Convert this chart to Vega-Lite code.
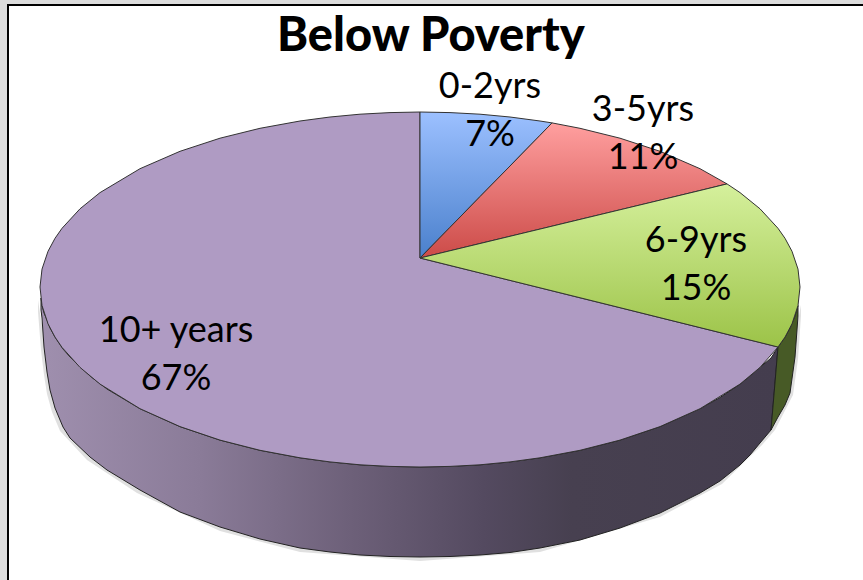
{"$schema":"https://vega.github.io/schema/vega-lite/v6.json","width":863,"height":580,"padding":0,"autosize":"none","background":"#ffffff","view":{"stroke":null},
"title":{"text":"Below Poverty","font":"Lato","fontSize":47,"fontWeight":900,"color":"#000000","anchor":"start","dx":277,"offset":-61,"frame":"group"},
"datasets":{
"frame":[{"part":"gray-left","x":0,"x2":7,"y":0,"y2":580},{"part":"gray-top","x":0,"x2":863,"y":0,"y2":4},{"part":"black-left","x":7,"x2":9,"y":5,"y2":580},{"part":"black-top","x":7,"x2":863,"y":4,"y2":6}],
"outline":[
{"slice":"shadow","x":38,"y":300,"y2":312},{"slice":"shadow","x":41,"y":320,"y2":350},{"slice":"shadow","x":44,"y":330,"y2":375},{"slice":"shadow","x":47,"y":340,"y2":394},{"slice":"shadow","x":52,"y":350,"y2":412},{"slice":"shadow","x":60,"y":360,"y2":431},{"slice":"shadow","x":87,"y":380,"y2":460},{"slice":"shadow","x":137,"y":410,"y2":493},{"slice":"shadow","x":220,"y":440,"y2":531},{"slice":"shadow","x":300,"y":458,"y2":552},{"slice":"shadow","x":420,"y":467,"y2":561},{"slice":"shadow","x":540,"y":458,"y2":552},{"slice":"shadow","x":660,"y":427,"y2":517},{"slice":"shadow","x":722,"y":397,"y2":484},{"slice":"shadow","x":762,"y":367,"y2":445},{"slice":"shadow","x":775,"y":358,"y2":430},{"slice":"shadow","x":793,"y":330,"y2":395},{"slice":"shadow","x":798,"y":320,"y2":359},{"slice":"shadow","x":801,"y":305,"y2":316},
{"slice":"10+ side","x":41,"y":298,"y2":310},{"slice":"10+ side","x":42,"y":305.5,"y2":318},{"slice":"10+ side","x":44,"y":313,"y2":347},{"slice":"10+ side","x":47,"y":320,"y2":372},{"slice":"10+ side","x":50,"y":328,"y2":390},{"slice":"10+ side","x":55,"y":337,"y2":408},{"slice":"10+ side","x":63,"y":349,"y2":427},{"slice":"10+ side","x":70,"y":357,"y2":438},{"slice":"10+ side","x":90,"y":376,"y2":457},{"slice":"10+ side","x":107,"y":389,"y2":470},{"slice":"10+ side","x":140,"y":408.7,"y2":490},{"slice":"10+ side","x":180,"y":426.6,"y2":512},{"slice":"10+ side","x":220,"y":440.1,"y2":527},{"slice":"10+ side","x":260,"y":450.3,"y2":539},{"slice":"10+ side","x":300,"y":457.8,"y2":548},{"slice":"10+ side","x":330,"y":461.9,"y2":552},{"slice":"10+ side","x":360,"y":464.8,"y2":555},{"slice":"10+ side","x":390,"y":466.4,"y2":556.5},{"slice":"10+ side","x":420,"y":467,"y2":557},{"slice":"10+ side","x":450,"y":466.4,"y2":556.5},{"slice":"10+ side","x":480,"y":464.8,"y2":555},{"slice":"10+ side","x":510,"y":461.9,"y2":552.5},{"slice":"10+ side","x":540,"y":457.8,"y2":548},{"slice":"10+ side","x":580,"y":450.3,"y2":540},{"slice":"10+ side","x":620,"y":440.1,"y2":528},{"slice":"10+ side","x":660,"y":426.6,"y2":513},{"slice":"10+ side","x":700,"y":408.7,"y2":493},{"slice":"10+ side","x":720,"y":397.5,"y2":481},{"slice":"10+ side","x":740,"y":384.1,"y2":465},{"slice":"10+ side","x":750,"y":376,"y2":455},{"slice":"10+ side","x":760,"y":367.4,"y2":443},{"slice":"10+ side","x":771,"y":358,"y2":430},{"slice":"10+ side","x":778,"y":347,"y2":347},
{"slice":"6-9 side","x":771,"y":430,"y2":430},{"slice":"6-9 side","x":778,"y":347,"y2":417},{"slice":"6-9 side","x":785,"y":337,"y2":405},{"slice":"6-9 side","x":790,"y":328,"y2":393},{"slice":"6-9 side","x":795,"y":316,"y2":357},{"slice":"6-9 side","x":798,"y":305.5,"y2":316},
{"slice":"10+","x":40,"y":287,"y2":287},{"slice":"10+","x":42,"y":269.1,"y2":305.5},{"slice":"10+","x":48,"y":251.3,"y2":323.8},{"slice":"10+","x":55,"y":238.3,"y2":337.1},{"slice":"10+","x":62,"y":228.3,"y2":347.4},{"slice":"10+","x":80,"y":208.8,"y2":367.4},{"slice":"10+","x":100,"y":192.6,"y2":384.1},{"slice":"10+","x":140,"y":168.7,"y2":408.7},{"slice":"10+","x":180,"y":151.3,"y2":426.6},{"slice":"10+","x":220,"y":138.2,"y2":440.1},{"slice":"10+","x":260,"y":128.3,"y2":450.3},{"slice":"10+","x":300,"y":121,"y2":457.8},{"slice":"10+","x":330,"y":117,"y2":461.9},{"slice":"10+","x":360,"y":114.2,"y2":464.8},{"slice":"10+","x":390,"y":112.6,"y2":466.4},{"slice":"10+","x":420,"y":112,"y2":467},{"slice":"10+","x":420.01,"y":258,"y2":467},{"slice":"10+","x":450,"y":265.5,"y2":466.4},{"slice":"10+","x":480,"y":272.9,"y2":464.8},{"slice":"10+","x":510,"y":280.4,"y2":461.9},{"slice":"10+","x":540,"y":287.8,"y2":457.8},{"slice":"10+","x":580,"y":297.8,"y2":450.3},{"slice":"10+","x":620,"y":307.7,"y2":440.1},{"slice":"10+","x":660,"y":317.7,"y2":426.6},{"slice":"10+","x":700,"y":327.6,"y2":408.7},{"slice":"10+","x":740,"y":337.6,"y2":384.1},{"slice":"10+","x":760,"y":342.5,"y2":367.4},{"slice":"10+","x":778,"y":347,"y2":347},
{"slice":"0-2","x":420,"y":112,"y2":258},{"slice":"0-2","x":450,"y":112.6,"y2":227.3},{"slice":"0-2","x":480,"y":114.2,"y2":196.6},{"slice":"0-2","x":510,"y":117,"y2":166},{"slice":"0-2","x":540,"y":121,"y2":135.3},{"slice":"0-2","x":552,"y":122.9,"y2":122.9},
{"slice":"3-5","x":420,"y":258,"y2":258},{"slice":"3-5","x":450,"y":227.3,"y2":250.8},{"slice":"3-5","x":480,"y":196.6,"y2":243.5},{"slice":"3-5","x":510,"y":166,"y2":236.3},{"slice":"3-5","x":540,"y":135.3,"y2":229.1},{"slice":"3-5","x":552,"y":122.9,"y2":226.2},{"slice":"3-5","x":580,"y":128.3,"y2":219.4},{"slice":"3-5","x":620,"y":138.2,"y2":209.8},{"slice":"3-5","x":660,"y":151.3,"y2":200.2},{"slice":"3-5","x":700,"y":168.7,"y2":190.5},{"slice":"3-5","x":727,"y":183.9,"y2":183.9},
{"slice":"6-9","x":420,"y":258,"y2":258},{"slice":"6-9","x":500,"y":238.7,"y2":277.9},{"slice":"6-9","x":600,"y":214.6,"y2":302.7},{"slice":"6-9","x":700,"y":190.5,"y2":327.6},{"slice":"6-9","x":727,"y":183.9,"y2":334.3},{"slice":"6-9","x":740,"y":192.6,"y2":337.6},{"slice":"6-9","x":760,"y":208.8,"y2":342.5},{"slice":"6-9","x":778,"y":228.3,"y2":347},{"slice":"6-9","x":785,"y":238.3,"y2":337.1},{"slice":"6-9","x":792,"y":251.3,"y2":323.8},{"slice":"6-9","x":798,"y":269.1,"y2":305.5},{"slice":"6-9","x":800,"y":287,"y2":287}
],
"labels":[{"group":"0-2yrs","share":7,"label":"0-2yrs\n7%","x":490,"y":87},{"group":"3-5yrs","share":11,"label":"3-5yrs\n11%","x":643,"y":110},{"group":"6-9yrs","share":15,"label":"6-9yrs\n15%","x":696,"y":241},{"group":"10+ years","share":67,"label":"10+ years\n67%","x":176,"y":331}]
},
"encoding":{
"x":{"field":"x","type":"quantitative","scale":{"domain":[0,863],"nice":false,"zero":false},"axis":null},
"y":{"field":"y","type":"quantitative","scale":{"domain":[580,0],"nice":false,"zero":false},"axis":null}
},
"layer":[
{"data":{"name":"frame"},"transform":[{"filter":"indexof(datum.part,'gray')==0"}],"mark":{"type":"rect","color":"#dcdcdc"},"encoding":{"x2":{"field":"x2"},"y2":{"field":"y2"}}},
{"data":{"name":"frame"},"transform":[{"filter":"indexof(datum.part,'black')==0"}],"mark":{"type":"rect","color":"#000000"},"encoding":{"x2":{"field":"x2"},"y2":{"field":"y2"}}},
{"data":{"name":"outline"},"transform":[{"filter":"datum.slice=='shadow'"}],"mark":{"type":"area","color":"#000000","opacity":0.12},"encoding":{"y2":{"field":"y2"}}},
{"data":{"name":"outline"},"transform":[{"filter":"datum.slice=='10+ side'"}],"mark":{"type":"area","stroke":"#222222","strokeWidth":1,"color":{"gradient":"linear","x1":0,"x2":1,"y1":0,"y2":0,"stops":[{"offset":0,"color":"#9f8fae"},{"offset":0.216,"color":"#8a7b98"},{"offset":0.42,"color":"#6d6079"},{"offset":0.6,"color":"#544a60"},{"offset":0.72,"color":"#474050"},{"offset":1,"color":"#443d4e"}]}},"encoding":{"y2":{"field":"y2"}}},
{"data":{"name":"outline"},"transform":[{"filter":"datum.slice=='6-9 side'"}],"mark":{"type":"area","stroke":"#222222","strokeWidth":1,"color":"#475a26"},"encoding":{"y2":{"field":"y2"}}},
{"data":{"name":"outline"},"transform":[{"filter":"datum.slice=='10+'"}],"mark":{"type":"area","stroke":"#333333","strokeWidth":1,"color":"#af9bc3"},"encoding":{"y2":{"field":"y2"}}},
{"data":{"name":"outline"},"transform":[{"filter":"datum.slice=='0-2'"}],"mark":{"type":"area","stroke":"#333333","strokeWidth":1,"color":{"gradient":"linear","x1":0,"x2":0,"y1":0,"y2":1,"stops":[{"offset":0,"color":"#9cc0ff"},{"offset":1,"color":"#4a80cc"}]}},"encoding":{"y2":{"field":"y2"}}},
{"data":{"name":"outline"},"transform":[{"filter":"datum.slice=='3-5'"}],"mark":{"type":"area","stroke":"#333333","strokeWidth":1,"color":{"gradient":"linear","x1":0,"x2":0,"y1":0,"y2":1,"stops":[{"offset":0,"color":"#ff9f9f"},{"offset":1,"color":"#cc4b48"}]}},"encoding":{"y2":{"field":"y2"}}},
{"data":{"name":"outline"},"transform":[{"filter":"datum.slice=='6-9'"}],"mark":{"type":"area","stroke":"#333333","strokeWidth":1,"color":{"gradient":"linear","x1":0,"x2":0,"y1":0,"y2":1,"stops":[{"offset":0,"color":"#d5f09c"},{"offset":1,"color":"#9cc348"}]}},"encoding":{"y2":{"field":"y2"}}},
{"data":{"name":"labels"},"mark":{"type":"text","font":"Lato","fontSize":36,"color":"#000000","align":"center","baseline":"middle","lineBreak":"\n","lineHeight":48},"encoding":{"text":{"field":"label"}}}
]}
